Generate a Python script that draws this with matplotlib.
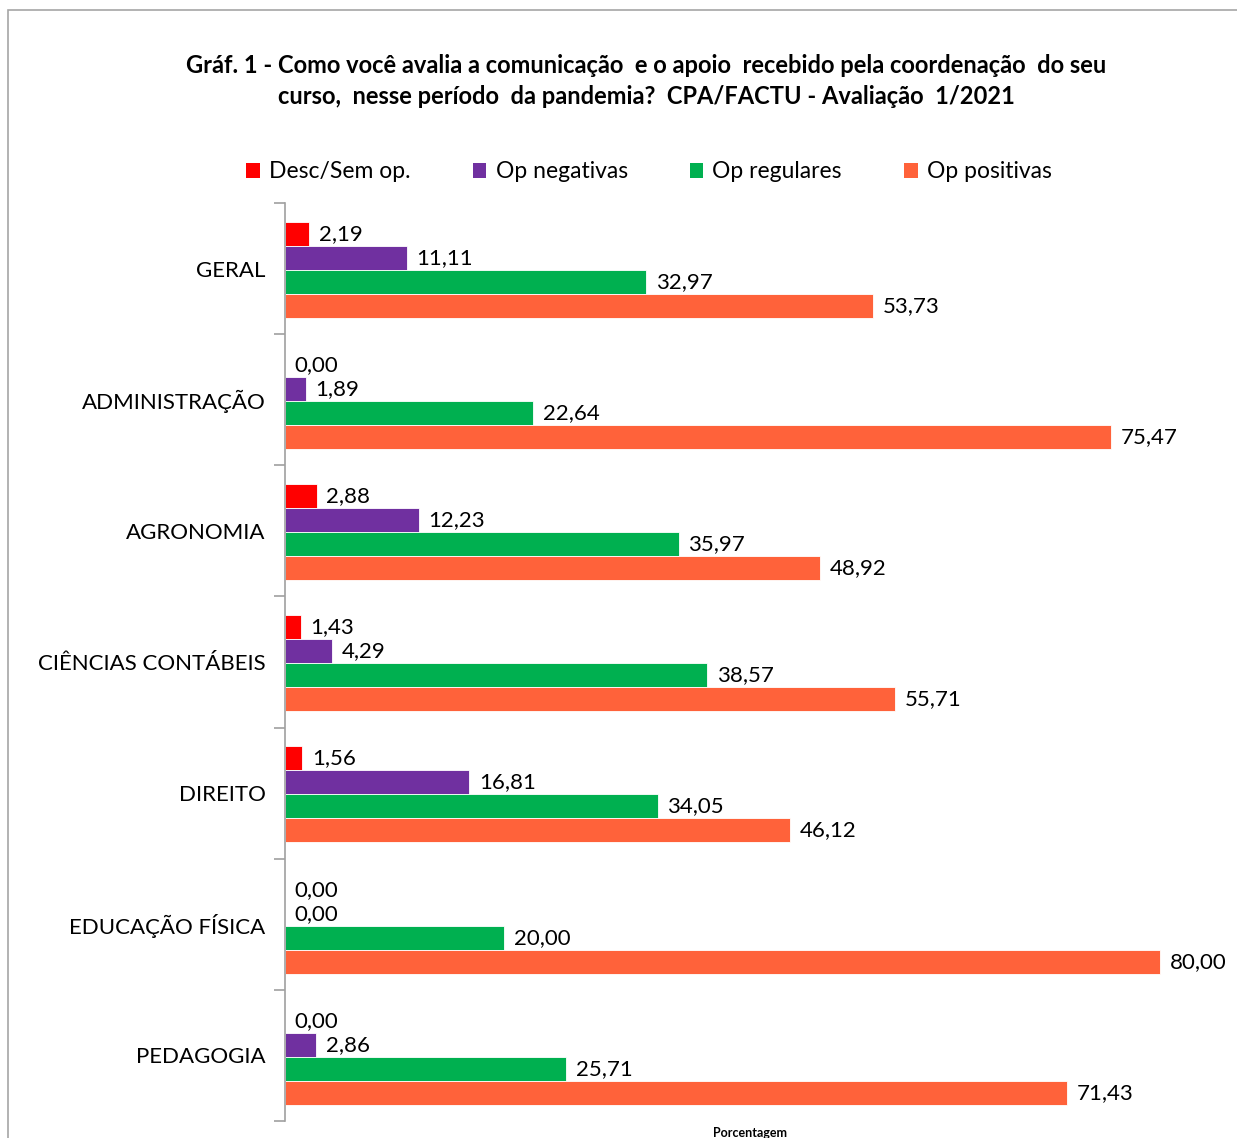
import numpy as np
import matplotlib
matplotlib.use("Agg")
import matplotlib.pyplot as plt
from matplotlib.patches import Patch, Rectangle

# Data
cursos = ["GERAL", "ADMINISTRAÇÃO", "AGRONOMIA", "CIÊNCIAS CONTÁBEIS",
          "DIREITO", "EDUCAÇÃO FÍSICA", "PEDAGOGIA"]
series = ["Desc/Sem op.", "Op negativas", "Op regulares", "Op positivas"]
desc_sem_op = [2.19, 0.00, 2.88, 1.43, 1.56, 0.00, 0.00]
op_negativas = [11.11, 1.89, 12.23, 4.29, 16.81, 0.00, 2.86]
op_regulares = [32.97, 22.64, 35.97, 38.57, 34.05, 20.00, 25.71]
op_positivas = [53.73, 75.47, 48.92, 55.71, 46.12, 80.00, 71.43]

cores = ["#FF0000", "#7030A0", "#00B050", "#FF623A"]

plt.rcParams['font.family'] = ['Lato', 'DejaVu Sans']

fig = plt.figure(figsize=(12.37, 11.38), dpi=100)
ax = fig.add_axes([285 / 1237, 1 - 1121 / 1138, 1 - 285 / 1237, (1121 - 203) / 1138])

y = np.arange(len(cursos))
h = 0.183
valores = [desc_sem_op, op_negativas, op_regulares, op_positivas]
for k, (vals, cor) in enumerate(zip(valores, cores)):
    pos = y + (k - 1.5) * h + 0.01
    ax.barh(pos, vals, height=h, color=cor, edgecolor="white", linewidth=0.6)
    for p, v in zip(pos, vals):
        ax.text(v + 0.9, p, f"{v:.2f}".replace(".", ","), va="center",
                ha="left", fontsize=16, color="black")

ax.set_xlim(0, 87)
ax.set_ylim(len(cursos) - 0.5, -0.5)
ax.set_xticks([])
ax.set_yticks(y)
ax.set_yticklabels(cursos, fontsize=16)
ax.tick_params(axis="y", which="major", length=0, pad=14)
ax.set_yticks(np.arange(len(cursos) + 1) - 0.5, minor=True)
ax.tick_params(axis="y", which="minor", length=8, color="#a0a0a0", width=1.2)
for s in ["top", "right", "bottom"]:
    ax.spines[s].set_visible(False)
ax.spines["left"].set_color("#a0a0a0")
ax.spines["left"].set_linewidth(1.2)

# title
fig.text(646 / 1237, 1 - 81 / 1138,
         "Gráf. 1 - Como você avalia a comunicação  e o apoio  recebido pela coordenação  do seu\n"
         "curso,  nesse período  da pandemia?  CPA/FACTU - Avaliação  1/2021",
         ha="center", va="center", fontsize=17, fontweight="bold", linespacing=1.45)

# legend
handles = [Patch(facecolor=c, edgecolor="none") for c in cores]
fig.legend(handles, series, loc="center", bbox_to_anchor=(649 / 1237, 1 - 172 / 1138),
           ncol=4, frameon=False, fontsize=16.5, handlelength=0.6, handleheight=0.6,
           handletextpad=0.4, columnspacing=2.7)

fig.text(750 / 1237, 1 - 1127 / 1138, "Porcentagem", ha="center", va="top",
         fontsize=9, fontweight="bold")

# outer frame
fig.patches.append(Rectangle((8 / 1237, -0.2), 1.2, 1.2 - 10 / 1138,
                             transform=fig.transFigure, fill=False,
                             edgecolor="#a6a6a6", linewidth=1.2))

fig.savefig("out.png", dpi=100)
